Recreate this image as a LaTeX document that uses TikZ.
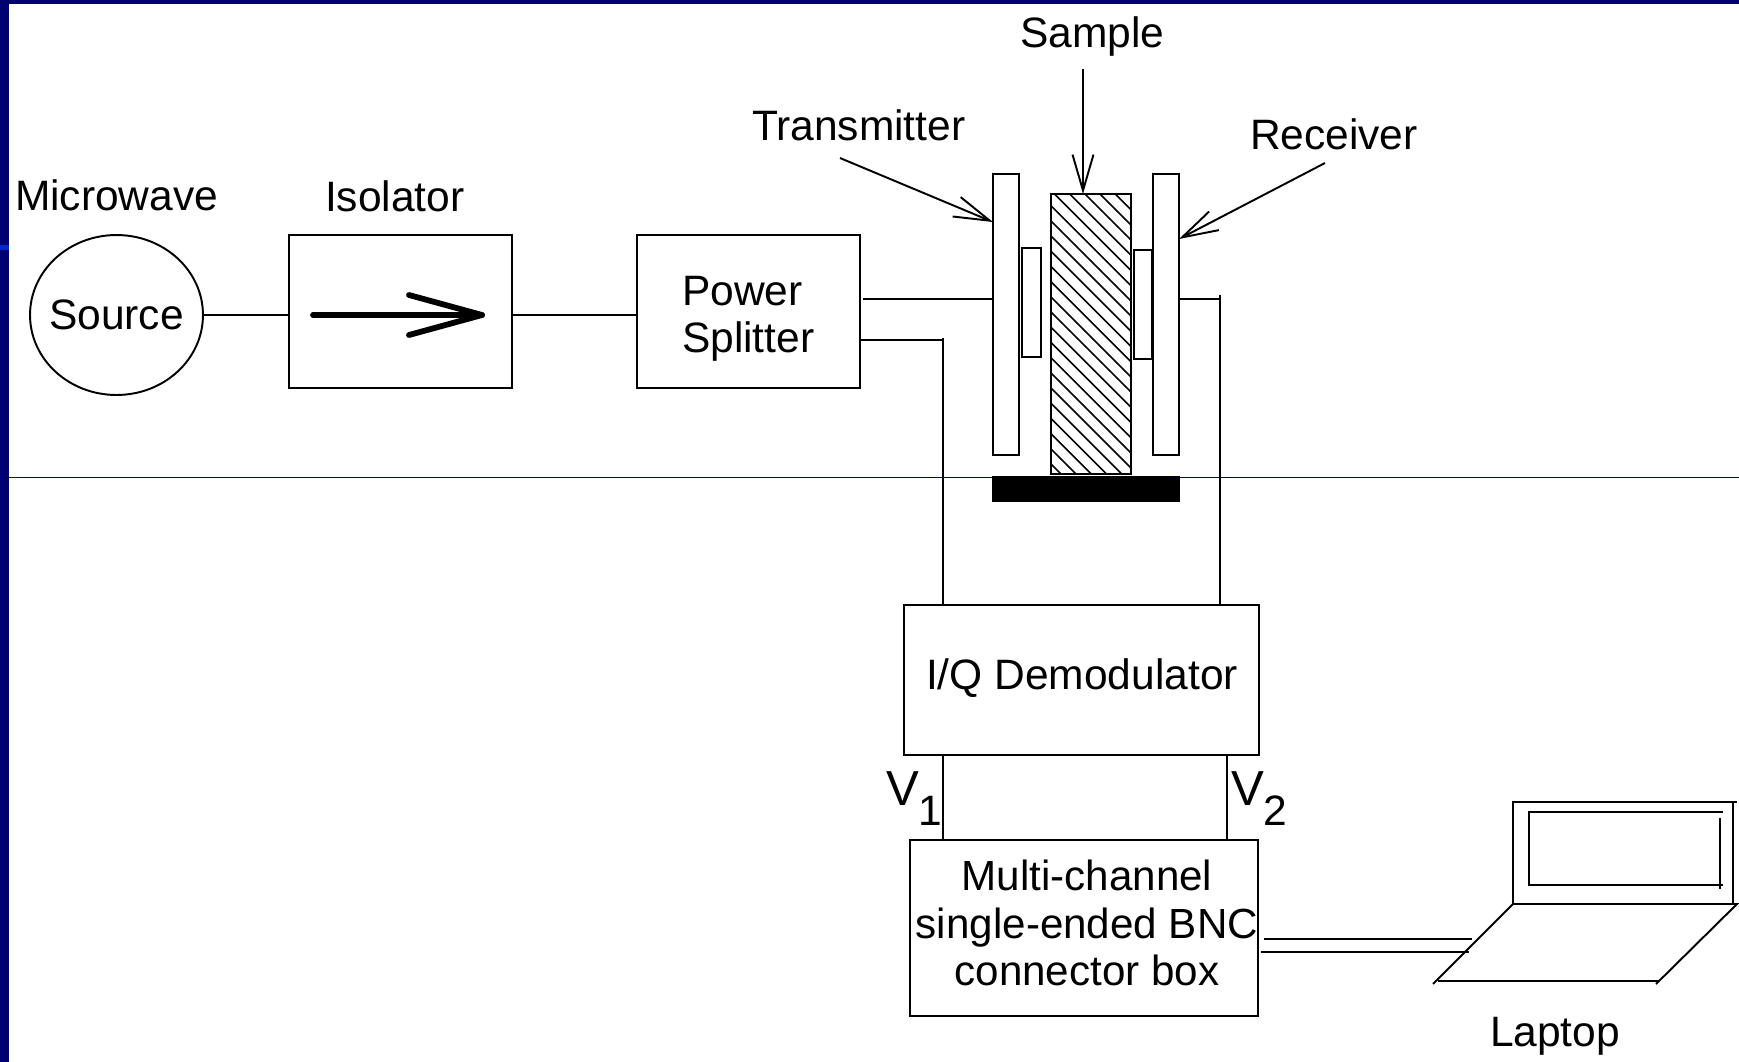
\documentclass[tikz,border=0pt]{standalone}
\usepackage{fontspec}
\setmainfont{Liberation Sans}
\usetikzlibrary{arrows.meta, positioning, shapes.geometric}

\begin{document}
\begin{tikzpicture}[
    x=0.02cm, y=-0.02cm,
    line width=1.1pt,
    font=\fontsize{24.2}{27}\selectfont,
    unit/.style={
      rectangle, draw, inner sep=0pt, outer sep=0pt, align=center,
      minimum width=4.46cm, minimum height=3.06cm
    },
    plate/.style={unit, minimum width=0.52cm, minimum height=5.62cm},
    pad/.style={unit, minimum width=0.37cm, minimum height=2.18cm},
    lbl/.style={anchor=base west, inner sep=0pt, outer sep=0pt},
    txt/.style={inner sep=0pt, outer sep=0pt, align=center},
    barb/.style={-{Straight Barb[length=0.72cm, width=0.42cm]}},
  ]
  \useasboundingbox (0,0) rectangle (1739,1062);

  % Slide background
  \fill[white] (0,0) rectangle (1739,1062);
  \fill[blue!44!black] (0,0) rectangle (1739,4);
  \fill[blue!44!black] (0,0) rectangle (9,1062);
  \fill[blue!80!cyan!80!black] (0,245) rectangle (9,250);
  \draw[blue!50!black, line width=0.5pt] (9,477) -- (1739,477);

  % Nodes of the microwave line
  \node[ellipse, draw, inner xsep=-0.14cm, inner ysep=0pt, outer sep=0pt, minimum width=3.46cm, minimum height=3.2cm]
    (source) at (116.5,315) {Source};
  \node[unit, right=1.72cm of source, yshift=0.07cm] (isolator) {};
  \node[unit, right=2.5cm of isolator] (splitter) {};

  % Sample holder
  \node[plate] (tx) at (1006,314.5) {};
  \node[plate] (rx) at (1166,314.5) {};
  \node[pad] (txpad) at (1031.5,302.5) {};
  \node[pad] (rxpad) at (1143,304.5) {};
  \node[unit, minimum width=1.6cm, minimum height=5.6cm] (sample) at (1091,334) {};
  \node[unit, fill=black, minimum width=3.72cm, minimum height=0.48cm] (holder) at (1086,489) {};

  % Hatching of the sample
  \begin{scope}
    \clip (sample.south west) rectangle (sample.north east);
    \foreach \k in {-8,...,20}
      \draw[line width=0.9pt] (1040,{1040-845.3+15.2*\k}) -- (1140,{1140-845.3+15.2*\k});
  \end{scope}

  % Readout boxes
  \node[unit, minimum width=7.1cm, minimum height=3cm] (demod) at (1081.5,680) {};
  \node[unit, minimum width=6.96cm, minimum height=3.52cm] (bnc) at (1084,928) {};

  % Labels
  \node[lbl] (lblmicro) at (15,210) {Microwave};
  \node[lbl] (lbliso) at (325,211) {Isolator};
  \node[lbl] (lbltx) at (752,140) {Transmitter};
  \node[lbl] (lblsample) at (1020,47) {Sample};
  \node[lbl] (lblrx) at (1250,149) {Receiver};
  \node[lbl, anchor=west, align=left] (lblsplit) at (682,319) {Power\\Splitter};
  \node[txt] (lbldemod) at (1082,678) {I/Q Demodulator};
  \node[txt, font=\fontsize{24}{27}\selectfont] (lblbnc) at (1087,923) {Multi-channel\\single-ended BNC\\connector box};
  \node[lbl] (lblvone) at (886,805) {\fontsize{28}{28}\selectfont V\raisebox{-11.4pt}{\fontsize{24.2}{24.2}\selectfont 1}};
  \node[lbl] (lblvtwo) at (1231,805) {\fontsize{28}{28}\selectfont V\raisebox{-11.4pt}{\fontsize{24.2}{24.2}\selectfont 2}};
  \node[lbl] (lbllaptop) at (1490,1046) {Laptop};

  % Isolator symbol
  \coordinate (isotail) at (313,315);
  \coordinate (isotip) at (482,315);
  \draw[line width=3.3pt, line cap=round] (isotail) -- (isotip);
  \draw[line width=3.3pt, line cap=round, line join=round] (409,295) -- (isotip) -- (409,335);

  % Wires along the top row
  \draw (source.east) -- (source.east -| isolator.west);
  \draw (source.east -| isolator.east) -- (source.east -| splitter.west);

  \coordinate (txfeed) at (993,299);
  \coordinate (rxbend) at (1220,299);
  \coordinate (refbend) at (943,340);
  \draw ([xshift=0.06cm] splitter.east |- txfeed) -- (txfeed);
  \draw (rx.east |- rxbend) -- (rxbend);
  \draw ([yshift=0.08cm] rxbend) -- (rxbend |- demod.north);
  \draw (splitter.east |- refbend) -- (refbend);
  \draw ([yshift=0.04cm] refbend) -- (refbend |- demod.north);

  % Pointers to the sample holder
  \coordinate (txtail) at (840,158);
  \coordinate (rxtail) at (1325,163);
  \coordinate (sampletail) at (1083,69);
  \draw[barb] (txtail) -- ([yshift=-0.96cm] tx.north west);
  \draw[barb] (rxtail) -- ([yshift=-1.3cm] rx.north east);
  \draw[barb] (sampletail) -- ([xshift=-0.16cm] sample.north);

  % Demodulator outputs
  \coordinate (vtwo) at (1227,755);
  \draw (refbend |- demod.south) -- (refbend |- bnc.north);
  \draw (vtwo) -- (vtwo |- bnc.north);

  % Laptop
  \coordinate (lidleft) at (1513,904);
  \coordinate (lidright) at (1737,904);
  \coordinate (keyleft) at (1433,984);
  \coordinate (keyright) at (1656,984);
  \draw (lidleft) -- (1513,802) -- (1737,802);
  \draw (1733,802) -- (1733,904);
  \draw (lidleft) -- (lidright) -- (keyright);
  \draw (lidleft) -- (keyleft);
  \draw (1438,981) -- (1659,981);
  \draw (1528,812) -- (1723,812);
  \draw (1529,812) -- (1529,885);
  \draw (1528,885) -- (1723,885);
  \draw (1720,818) -- (1720,889);

  % Cable to the laptop
  \coordinate (cableup) at (1472,939);
  \coordinate (cabledown) at (1469,952);
  \draw ([xshift=0.12cm] bnc.east |- cableup) -- (cableup);
  \draw ([xshift=0.06cm] bnc.east |- cabledown) -- (cabledown);

\end{tikzpicture}
\end{document}
